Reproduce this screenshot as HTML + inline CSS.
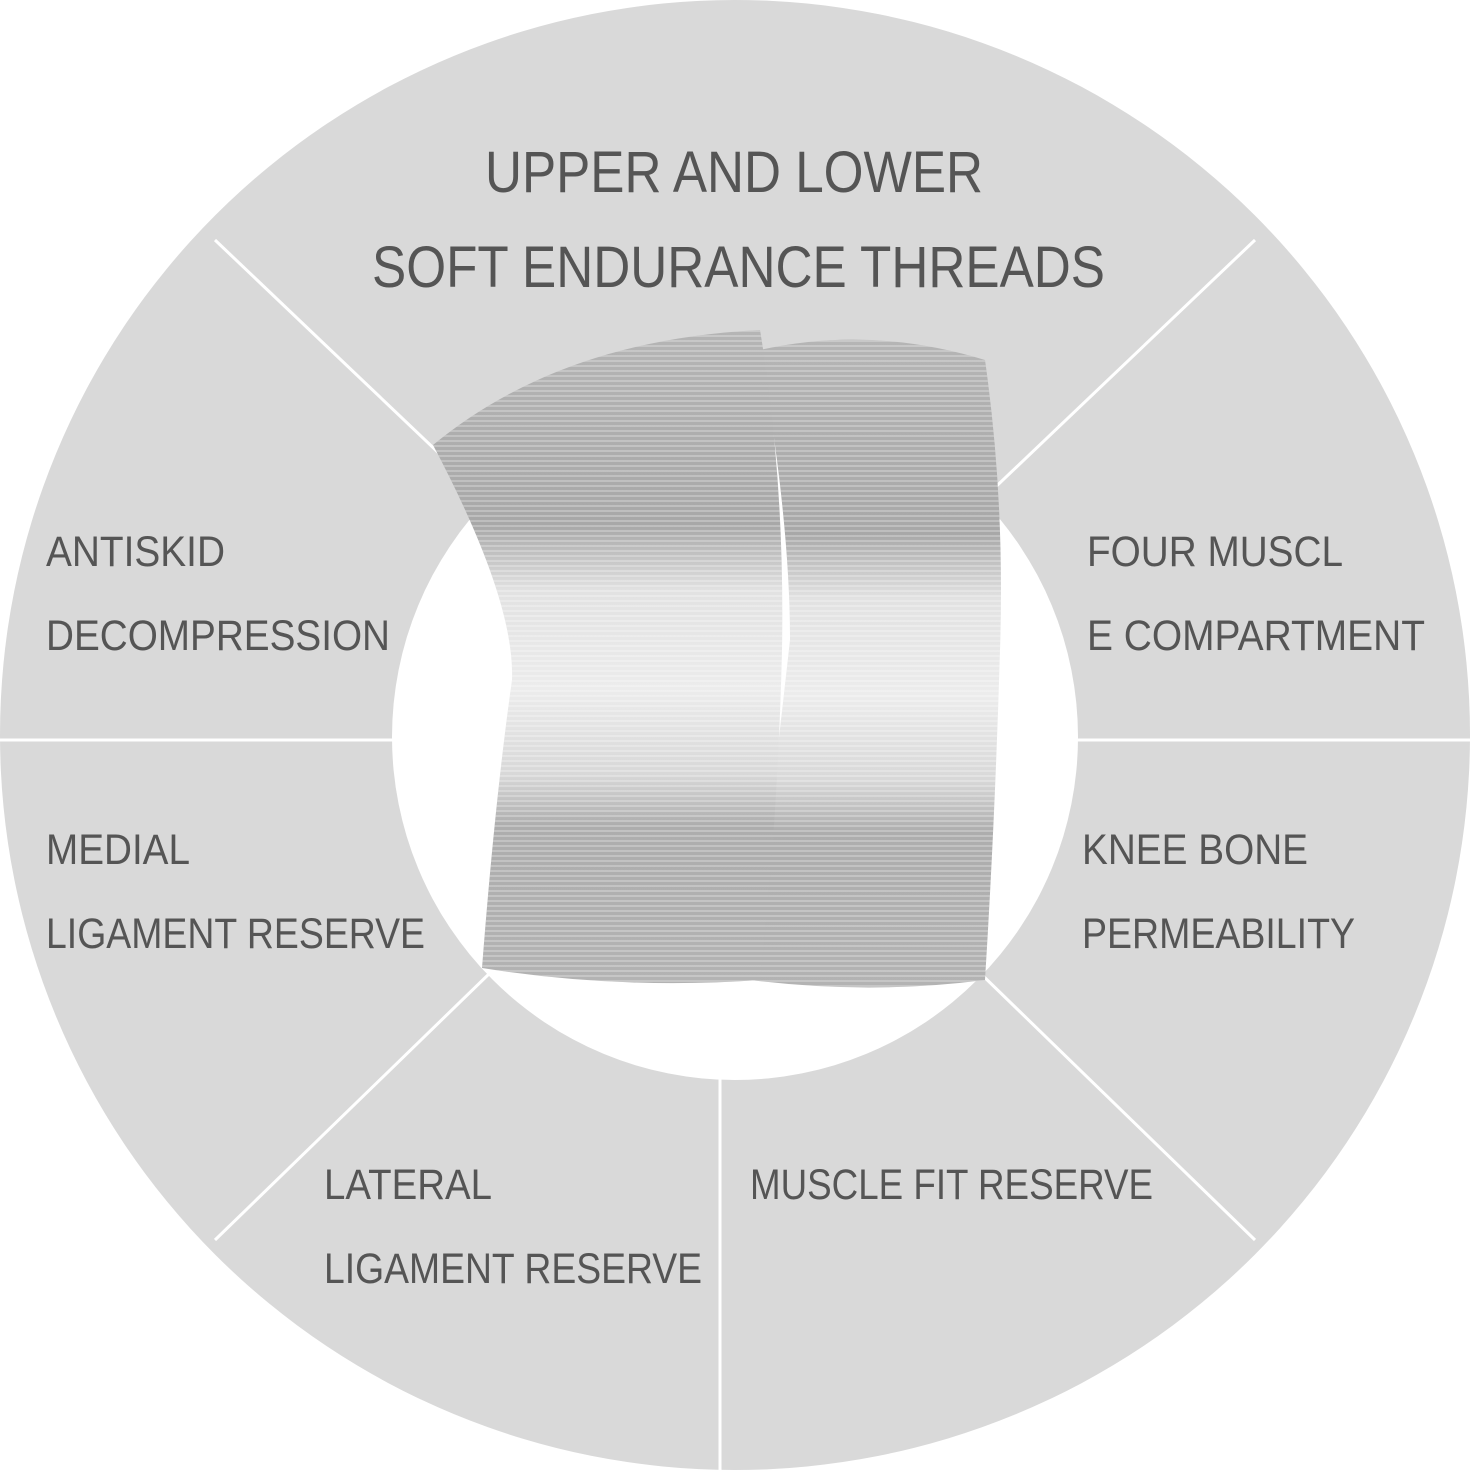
<!DOCTYPE html>
<html><head><style>
html,body{margin:0;padding:0;background:#fff}
svg{display:block}
text{font-family:"Liberation Sans",sans-serif;fill:#555}
</style></head><body>
<svg width="1470" height="1470" viewBox="0 0 1470 1470">
<defs>
<linearGradient id="g" x1="0" y1="0" x2="0" y2="1">
<stop offset="0" stop-color="#b5b5b5"/>
<stop offset="0.3" stop-color="#a8a8a8"/>
<stop offset="0.4" stop-color="#e2e2e2"/>
<stop offset="0.55" stop-color="#ececec"/>
<stop offset="0.68" stop-color="#d8d8d8"/>
<stop offset="0.76" stop-color="#adadad"/>
<stop offset="1" stop-color="#b3b3b3"/>
</linearGradient>
<pattern id="p" width="6" height="5" patternUnits="userSpaceOnUse">
<rect width="6" height="2" fill="#ffffff" opacity="0.25"/>
</pattern>
</defs>
<circle cx="735" cy="735" r="735" fill="#d9d9d9"/>
<g stroke="#fff" stroke-width="3">
<line x1="215" y1="240" x2="735" y2="735"/>
<line x1="1255" y1="240" x2="735" y2="735"/>
<line x1="0" y1="740" x2="1470" y2="740"/>
<line x1="215" y1="1240" x2="735" y2="735"/>
<line x1="1255" y1="1240" x2="735" y2="735"/>
<line x1="720" y1="735" x2="720" y2="1470"/>
</g>
<circle cx="735" cy="737" r="343" fill="#fff"/>
<path d="M760,350 Q870,325 985,360 Q1005,500 1000,650 Q995,820 985,980 Q870,995 750,980 Q770,820 790,640 Q790,520 760,350Z" fill="url(#g)"/>
<path d="M760,350 Q870,325 985,360 Q1005,500 1000,650 Q995,820 985,980 Q870,995 750,980 Q770,820 790,640 Q790,520 760,350Z" fill="url(#p)"/>
<path d="M433,445 Q560,340 760,330 Q785,480 782,650 Q778,820 760,980 Q620,990 482,968 Q495,800 512,680 Q515,600 433,445Z" fill="url(#g)"/>
<path d="M433,445 Q560,340 760,330 Q785,480 782,650 Q778,820 760,980 Q620,990 482,968 Q495,800 512,680 Q515,600 433,445Z" fill="url(#p)"/>
<g font-size="58" lengthAdjust="spacingAndGlyphs">
<text x="485" y="192" textLength="498" lengthAdjust="spacingAndGlyphs">UPPER AND LOWER</text>
<text x="372" y="287" textLength="733" lengthAdjust="spacingAndGlyphs">SOFT ENDURANCE THREADS</text>
</g>
<g font-size="43">
<text x="46" y="566" textLength="179" lengthAdjust="spacingAndGlyphs">ANTISKID</text>
<text x="46" y="650" textLength="344" lengthAdjust="spacingAndGlyphs">DECOMPRESSION</text>
<text x="1087" y="566" textLength="256" lengthAdjust="spacingAndGlyphs">FOUR MUSCL</text>
<text x="1087" y="650" textLength="338" lengthAdjust="spacingAndGlyphs">E COMPARTMENT</text>
<text x="46" y="864" textLength="144" lengthAdjust="spacingAndGlyphs">MEDIAL</text>
<text x="46" y="948" textLength="379" lengthAdjust="spacingAndGlyphs">LIGAMENT RESERVE</text>
<text x="1082" y="864" textLength="226" lengthAdjust="spacingAndGlyphs">KNEE BONE</text>
<text x="1082" y="948" textLength="273" lengthAdjust="spacingAndGlyphs">PERMEABILITY</text>
<text x="324" y="1199" textLength="168" lengthAdjust="spacingAndGlyphs">LATERAL</text>
<text x="324" y="1283" textLength="378" lengthAdjust="spacingAndGlyphs">LIGAMENT RESERVE</text>
<text x="750" y="1199" textLength="403" lengthAdjust="spacingAndGlyphs">MUSCLE FIT RESERVE</text>
</g>
</svg>
</body></html>
